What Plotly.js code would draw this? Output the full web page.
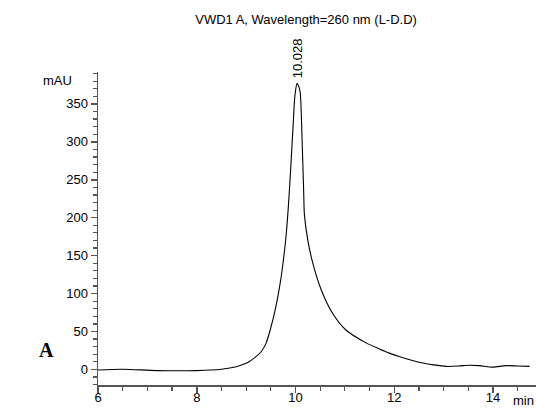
<!DOCTYPE html>
<html>
<head>
<meta charset="utf-8">
<script src="https://cdn.plot.ly/plotly-3.0.1.min.js"></script>
<style>
html,body{margin:0;padding:0;background:#fff;}
#chart{width:537px;height:409px;}
</style>
</head>
<body>
<div id="chart"></div>
<script>
// Retention time (min)
var times = [6.0, 6.5, 7.2, 8.0, 8.5, 8.8, 9.0, 9.1, 9.2, 9.3, 9.4, 9.5, 9.6, 9.7, 9.75, 9.8, 9.85, 9.9, 9.95, 9.99, 10.032, 10.06, 10.093, 10.134, 10.166, 10.18, 10.247, 10.35, 10.52, 10.75, 11.02, 11.43, 11.7, 11.9, 12.1, 12.5, 12.8, 13.05, 13.3, 13.5, 13.72, 13.99, 14.26, 14.5, 14.74];
// Absorbance (mAU)
var mau = [-0.7, 0.3, -1.5, -1.5, 0.3, 3.5, 8, 12, 17, 23, 34, 55, 82, 118, 142, 170, 210, 262, 320, 362, 377, 374, 366, 300, 233, 204, 171, 140, 105, 74, 52, 35, 27, 21.5, 17, 9.5, 6, 4, 4.5, 5.6, 5, 3, 5, 4.5, 4];

var peakTime = 10.028;
var peakLabel = "10.028";
var peakHeight = 377;
var titleText = "VWD1 A, Wavelength=260 nm (L-D.D)";
var yUnit = "mAU";
var xUnit = "min";
var panelLabel = "A";

var axisColor = "#555";
var font = {family: "Liberation Sans, Arial, sans-serif", size: 13, color: "#000"};

var trace = {
  x: times, y: mau, type: "scatter", mode: "lines",
  line: {color: "#000", width: 1.1, shape: "spline", smoothing: 0.8},
  hoverinfo: "skip"
};

var layout = {
  width: 537, height: 409,
  margin: {l: 98, r: 1, t: 72, b: 24, pad: 0},
  paper_bgcolor: "#fff", plot_bgcolor: "#fff",
  showlegend: false,
  font: font,
  title: {text: titleText, font: {family: font.family, size: 13, color: "#000"}, x: 0.57, xanchor: "center", y: 0.952, yanchor: "middle"},
  xaxis: {
    range: [6, 14.87], showgrid: false, zeroline: false,
    showline: true, linecolor: axisColor, linewidth: 1.5,
    ticks: "outside", tickcolor: axisColor, ticklen: 6, tickwidth: 1.5,
    tick0: 6, dtick: 2, tickfont: font, ticklabelstandoff: -6,
    minor: {dtick: 0.5, ticks: "outside", ticklen: 4, tickcolor: axisColor, tickwidth: 1.2}
  },
  yaxis: {
    range: [-20.5, 392], showgrid: false, zeroline: false,
    showline: true, linecolor: axisColor, linewidth: 1.5,
    ticks: "outside", tickcolor: axisColor, ticklen: 6, tickwidth: 1.5,
    tick0: 0, dtick: 50, tickfont: font,
    minor: {dtick: 10, ticks: "outside", ticklen: 4, tickcolor: axisColor, tickwidth: 1.2}
  },
  annotations: [
    {x: peakTime, y: peakHeight, xref: "x", yref: "y", text: peakLabel, showarrow: false,
     textangle: -90, xanchor: "center", yanchor: "bottom", yshift: 3, font: font},
    {x: 0, y: 1.0, xref: "paper", yref: "paper", text: yUnit, showarrow: false,
     xanchor: "center", yanchor: "middle", xshift: -41, yshift: -8, font: font},
    {x: 1, y: 0, xref: "paper", yref: "paper", text: xUnit, showarrow: false,
     xanchor: "right", yanchor: "top", yshift: -6, font: font},
    {x: 0, y: 0, xref: "paper", yref: "paper", text: "<b>" + panelLabel + "</b>", showarrow: false,
     xanchor: "center", yanchor: "middle", xshift: -52, yshift: 35,
     font: {family: "Liberation Serif, Times New Roman, serif", size: 20, color: "#000"}}
  ]
};

Plotly.newPlot("chart", [trace], layout, {displayModeBar: false, staticPlot: true});
</script>
</body>
</html>
